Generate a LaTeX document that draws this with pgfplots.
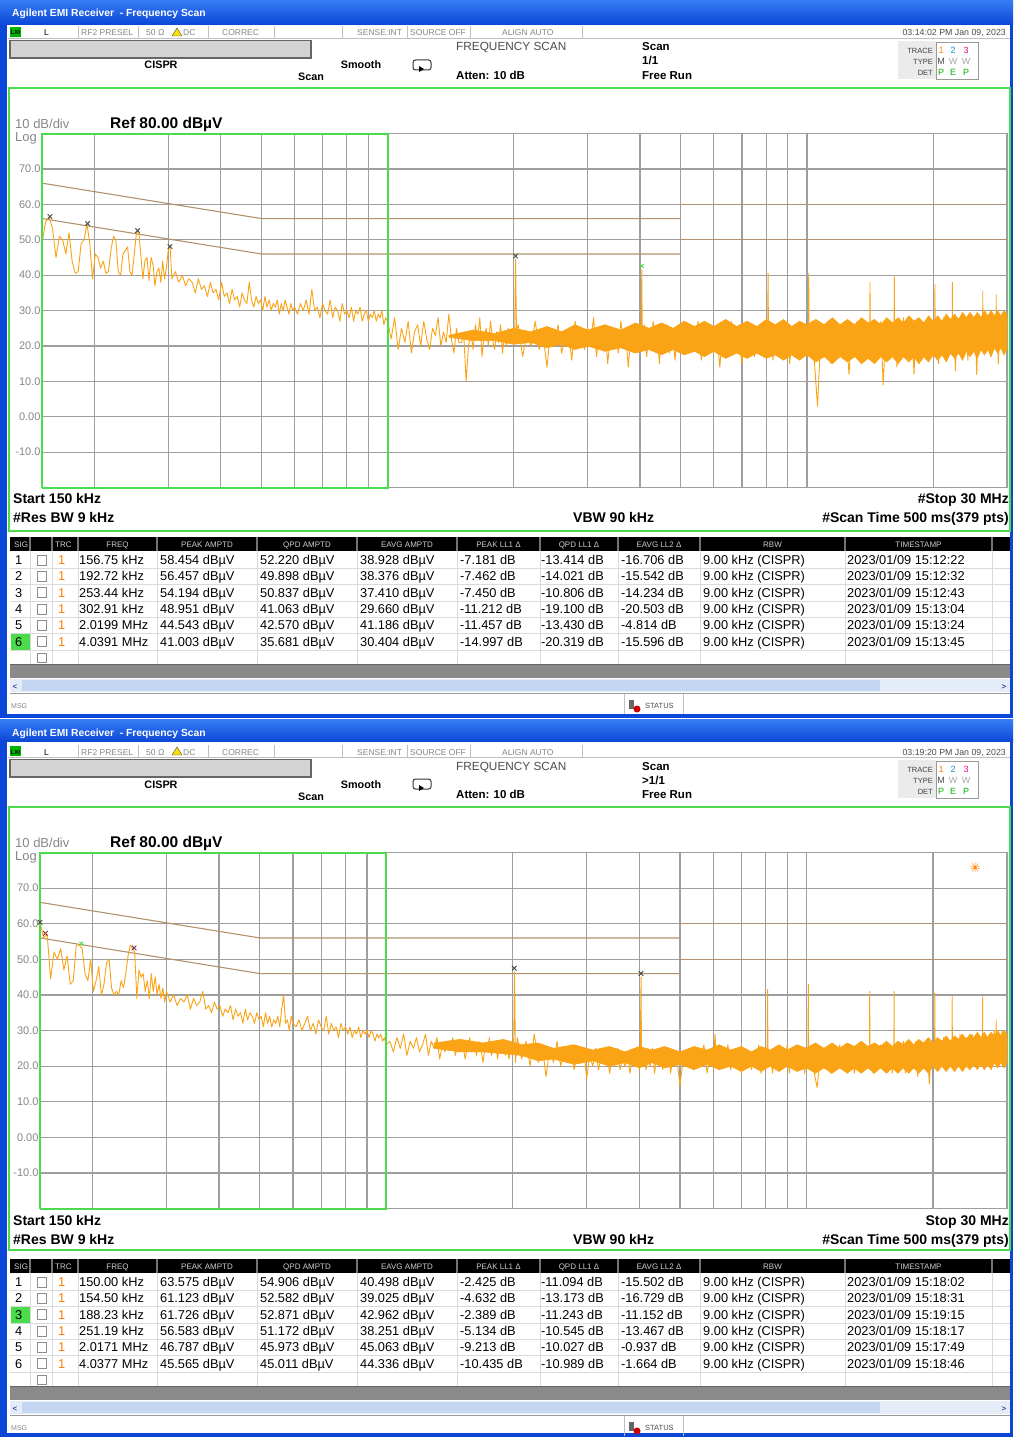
\documentclass[border=0pt]{standalone}
\usepackage{pgfplots}
\pgfplotsset{compat=1.18}
\usepackage{pgfplotstable}
\usepackage{fontspec}
\setmainfont{Liberation Sans}
\usetikzlibrary{plotmarks}

\definecolor{xpblue}{RGB}{10,70,215}
\definecolor{xpblueL}{RGB}{55,125,245}
\definecolor{scrgreen}{RGB}{75,220,75}
\definecolor{tracec}{RGB}{250,163,20}
\definecolor{limitc}{RGB}{178,146,110}
\definecolor{gridc}{RGB}{158,158,158}
\definecolor{labgray}{RGB}{135,135,135}
\definecolor{hdrgray}{RGB}{205,205,205}
\definecolor{rowline}{RGB}{218,218,218}
\definecolor{barg}{RGB}{138,138,138}
\definecolor{scrollbg}{RGB}{228,236,248}
\definecolor{scrollth}{RGB}{196,214,242}
\definecolor{mkred}{RGB}{150,40,60}
\definecolor{mkpurple}{RGB}{100,40,100}

\newcommand\fs[1]{\fontsize{#1}{#1}\selectfont}

\pgfplotstableread[row sep=\\]{
f db\\
0.150 49\\ 0.153 55\\ 0.156 56.5\\ 0.159 53\\ 0.162 45\\ 0.165 51\\ 0.168 50\\ 0.171 46\\ 0.174 52\\ 0.177 44\\
0.180 40.5\\ 0.183 41\\ 0.186 49\\ 0.189 50\\ 0.192 54.5\\ 0.195 49\\ 0.198 39\\ 0.201 46\\ 0.204 45\\ 0.207 42\\
0.210 44\\ 0.213 40.5\\ 0.216 41\\ 0.219 47\\ 0.222 51\\ 0.225 50\\ 0.228 41\\ 0.231 40\\ 0.234 46\\ 0.237 47\\
0.240 48\\ 0.243 41\\ 0.246 40\\ 0.249 46\\ 0.252 52\\ 0.255 52.5\\ 0.258 46\\ 0.261 39\\ 0.264 44\\ 0.267 45\\
0.270 38.5\\ 0.273 45\\ 0.276 43\\ 0.279 37\\ 0.282 41\\ 0.285 42\\ 0.288 38\\ 0.291 44\\ 0.294 39\\ 0.297 42\\
0.300 47\\ 0.303 48.5\\
0.306 39\\ 0.312 41\\ 0.318 38\\ 0.324 40\\ 0.330 37\\ 0.336 39\\ 0.342 38\\ 0.348 35\\ 0.354 39\\ 0.360 36\\
0.366 37\\ 0.372 34\\ 0.378 38\\ 0.384 35\\ 0.390 36\\ 0.396 33\\ 0.402 38\\ 0.408 34\\ 0.414 35\\ 0.420 32\\
0.426 36\\ 0.432 33\\ 0.438 34\\ 0.444 31\\ 0.450 35\\ 0.456 33\\ 0.462 32\\ 0.468 38\\ 0.474 33\\ 0.480 31\\
0.486 34\\ 0.492 32\\ 0.498 33\\ 0.504 30\\ 0.510 34\\ 0.516 31\\ 0.522 33\\ 0.528 30\\ 0.534 32\\ 0.540 31\\
0.546 33\\ 0.552 29\\ 0.558 32\\ 0.564 30\\ 0.570 33\\ 0.576 31\\ 0.582 29\\ 0.588 32\\ 0.594 30\\ 0.600 31\\
0.61 29\\ 0.62 32\\ 0.63 30\\ 0.64 33\\ 0.65 29\\ 0.66 36\\ 0.67 30\\ 0.68 31\\ 0.69 28\\ 0.70 32\\
0.71 30\\ 0.72 29\\ 0.73 33\\ 0.74 28\\ 0.75 31\\ 0.76 30\\ 0.77 27\\ 0.78 32\\ 0.79 29\\ 0.80 30\\
0.81 28\\ 0.82 31\\ 0.83 27\\ 0.84 30\\ 0.85 29\\ 0.86 31\\ 0.87 27\\ 0.88 29\\ 0.89 30\\ 0.90 27\\
0.91 29\\ 0.92 28\\ 0.93 30\\ 0.94 27\\ 0.95 29\\ 0.96 28\\ 0.97 30\\ 0.98 26\\ 0.99 28\\ 1.00 27\\
1.02 22\\ 1.04 28\\ 1.06 19\\ 1.08 25\\ 1.10 21\\ 1.12 27\\ 1.14 18\\ 1.16 24\\ 1.18 26\\ 1.20 20\\
1.22 27\\ 1.24 22\\ 1.26 19\\ 1.28 25\\ 1.30 23\\ 1.32 28\\ 1.34 20\\ 1.36 24\\ 1.38 21\\ 1.40 29\\
1.42 22\\ 1.44 18\\ 1.46 25\\ 1.48 21\\ 1.50 21\\ 1.52 23\\ 1.54 10\\ 1.56 20\\ 1.58 24\\ 1.60 19\\
1.62 26\\ 1.64 22\\ 1.66 28\\ 1.68 17\\ 1.70 23\\ 1.72 25\\ 1.74 20\\ 1.76 27\\ 1.78 22\\ 1.80 19\\
1.82 24\\ 1.84 21\\ 1.86 26\\ 1.88 18\\ 1.90 23\\ 1.92 20\\ 1.94 25\\ 1.96 22\\ 1.98 24\\ 2.00 21\\
2.01 25\\ 2.02 44.5\\ 2.03 24\\
2.05 26\\ 2.10 17\\ 2.15 24\\ 2.20 20\\ 2.25 27\\ 2.30 19\\ 2.35 23\\ 2.40 14\\ 2.45 25\\ 2.50 21\\
2.55 26\\ 2.60 18\\ 2.65 22\\ 2.70 24\\ 2.75 16\\ 2.80 27\\ 2.85 20\\ 2.90 23\\ 2.95 19\\ 3.00 25\\
3.05 21\\ 3.10 28\\ 3.15 17\\ 3.20 24\\ 3.25 22\\ 3.30 26\\ 3.35 15\\ 3.40 23\\ 3.45 20\\ 3.50 25\\
3.55 18\\ 3.60 27\\ 3.65 21\\ 3.70 24\\ 3.75 14\\ 3.80 22\\ 3.85 26\\ 3.90 19\\ 3.95 23\\ 4.00 20\\
4.02 24\\ 4.04 41.5\\ 4.05 21\\
4.10 26\\ 4.15 17\\ 4.20 24\\ 4.25 21\\ 4.30 27\\ 4.35 19\\ 4.40 23\\ 4.45 15\\ 4.50 25\\ 4.55 20\\
4.60 22\\ 4.65 26\\ 4.70 18\\ 4.75 24\\ 4.80 21\\ 4.85 16\\ 4.90 25\\ 4.95 22\\ 5.00 19\\
5.1 25\\ 5.2 18\\ 5.3 23\\ 5.4 20\\ 5.5 27\\ 5.6 16\\ 5.7 24\\ 5.8 21\\ 5.9 26\\ 6.0 19\\
6.1 23\\ 6.2 14\\ 6.3 25\\ 6.4 20\\ 6.5 22\\ 6.6 27\\ 6.7 18\\ 6.8 24\\ 6.9 21\\ 7.0 15\\
7.1 25\\ 7.2 19\\ 7.3 23\\ 7.4 26\\ 7.5 17\\ 7.6 22\\ 7.7 24\\ 7.8 20\\ 7.9 27\\ 8.0 18\\
8.06 23\\ 8.08 40.5\\ 8.10 21\\
8.2 25\\ 8.3 16\\ 8.4 23\\ 8.5 20\\ 8.6 26\\ 8.7 18\\ 8.8 24\\ 8.9 21\\ 9.0 27\\ 9.1 15\\
9.2 22\\ 9.3 25\\ 9.4 19\\ 9.5 23\\ 9.6 20\\ 9.7 26\\ 9.8 17\\ 9.9 24\\ 10.0 21\\
10.08 23\\ 10.1 40.5\\ 10.12 22\\
10.2 25\\ 10.4 17\\ 10.6 3\\ 10.8 24\\ 11.0 20\\ 11.2 27\\ 11.4 15\\ 11.6 23\\ 11.8 21\\ 12.0 26\\
12.2 18\\ 12.4 24\\ 12.6 12\\ 12.8 25\\ 13.0 20\\ 13.2 27\\ 13.4 17\\ 13.6 23\\ 13.8 21\\ 14.0 26\\
14.12 22\\ 14.14 38\\ 14.16 21\\
14.2 24\\ 14.4 16\\ 14.6 25\\ 14.8 19\\ 15.0 27\\ 15.2 9\\ 15.4 23\\ 15.6 20\\ 15.8 26\\ 16.0 18\\
16.14 23\\ 16.16 39.5\\ 16.18 22\\
16.2 25\\ 16.4 14\\ 16.6 24\\ 16.8 21\\ 17.0 28\\ 17.2 17\\ 17.4 23\\ 17.6 19\\ 17.8 26\\ 18.0 12\\
18.2 24\\ 18.4 21\\ 18.6 27\\ 18.8 16\\ 19.0 25\\ 19.2 20\\ 19.4 23\\ 19.6 18\\ 19.8 27\\ 20.0 21\\
20.18 24\\ 20.2 37.5\\ 20.22 22\\
20.4 26\\ 20.6 15\\ 20.8 24\\ 21.0 19\\ 21.2 28\\ 21.4 17\\ 21.6 25\\ 21.8 21\\ 22.0 26\\ 22.2 20\\
22.22 38\\ 22.24 23\\
22.4 27\\ 22.6 13\\ 22.8 25\\ 23.0 20\\ 23.2 28\\ 23.4 18\\ 23.6 24\\ 23.8 22\\ 24.0 27\\ 24.2 16\\
24.4 25\\ 24.6 21\\ 24.8 28\\ 25.0 19\\ 25.2 26\\ 25.4 12\\ 25.6 24\\ 25.8 22\\ 26.0 28\\ 26.2 20\\
26.24 24\\ 26.26 35.5\\ 26.28 23\\
26.4 27\\ 26.6 18\\ 26.8 25\\ 27.0 21\\ 27.2 29\\ 27.4 17\\ 27.6 26\\ 27.8 22\\ 28.0 28\\ 28.2 19\\
28.26 25\\ 28.28 34.5\\ 28.30 24\\
28.4 27\\ 28.6 15\\ 28.8 26\\ 29.0 22\\ 29.2 29\\ 29.4 18\\ 29.6 27\\ 29.8 23\\ 30.0 28\\
}\toptrace

% dense core of the top trace (upper edge, then lower edge back)
\pgfplotstableread[row sep=\\]{
f db\\
1.4 23\\ 1.6 24.5\\ 1.8 23.5\\ 2.0 25\\ 2.2 24\\ 2.4 25.5\\ 2.6 24\\ 2.8 26\\ 3.0 24.5\\ 3.3 26\\
3.6 24.5\\ 3.9 26.5\\ 4.2 25\\ 4.5 26.5\\ 4.8 25\\ 5.1 27\\ 5.4 25.5\\ 5.7 27\\ 6.0 25.5\\ 6.4 27.5\\
6.8 25.5\\ 7.2 27\\ 7.6 25.5\\ 8.0 27.5\\ 8.4 26\\ 8.8 27.5\\ 9.2 25.5\\ 9.6 27\\ 10 26\\ 10.5 27.5\\
11 26\\ 11.5 28\\ 12 26\\ 12.5 27.5\\ 13 26\\ 13.5 28\\ 14 26.5\\ 14.5 27.5\\ 15 26\\ 15.5 28\\
16 26.5\\ 16.5 28\\ 17 26.5\\ 17.5 28.5\\ 18 27\\ 18.5 28\\ 19 26.5\\ 19.5 28.5\\ 20 27\\ 20.5 28.5\\
21 27\\ 21.5 29\\ 22 27.5\\ 22.5 29\\ 23 27.5\\ 23.5 29.5\\ 24 28\\ 24.5 29.5\\ 25 28\\ 25.5 29.5\\
26 28\\ 26.5 30\\ 27 28.5\\ 27.5 30\\ 28 28.5\\ 28.5 30\\ 29 28.5\\ 29.5 30\\ 30 29\\
30 19\\ 29.5 17.5\\ 29 19.5\\ 28.5 18\\ 28 19.5\\ 27.5 17\\ 27 19\\ 26.5 17.5\\ 26 19\\ 25.5 16.5\\
25 18.5\\ 24.5 17\\ 24 18.5\\ 23.5 16\\ 23 18\\ 22.5 16.5\\ 22 18\\ 21.5 15.5\\ 21 17.5\\ 20.5 16\\
20 17.5\\ 19.5 15.5\\ 19 17\\ 18.5 15\\ 18 17\\ 17.5 15.5\\ 17 17\\ 16.5 15\\ 16 17\\ 15.5 15.5\\
15 17\\ 14.5 15\\ 14 16.5\\ 13.5 15\\ 13 17\\ 12.5 15.5\\ 12 17\\ 11.5 15\\ 11 17\\ 10.5 15.5\\
10 17.5\\ 9.6 16\\ 9.2 17.5\\ 8.8 16\\ 8.4 17.5\\ 8.0 16.5\\ 7.6 18\\ 7.2 16.5\\ 6.8 18\\ 6.4 16.5\\
6.0 18.5\\ 5.7 17\\ 5.4 18.5\\ 5.1 17.5\\ 4.8 19\\ 4.5 17.5\\ 4.2 19\\ 3.9 18\\ 3.6 19.5\\ 3.3 18.5\\
3.0 20\\ 2.8 19\\ 2.6 20.5\\ 2.4 19.5\\ 2.2 21\\ 2.0 20.5\\ 1.8 21.5\\ 1.6 21.5\\ 1.4 22.5\\
}\topcore

\pgfplotstableread[row sep=\\]{
f db\\
0.150 60.5\\ 0.153 56\\ 0.156 57\\ 0.159 44.5\\ 0.162 52\\ 0.165 50\\ 0.168 53\\ 0.171 47\\ 0.174 51\\ 0.177 43\\
0.180 44\\ 0.183 54\\ 0.186 54\\ 0.189 53\\ 0.192 46\\ 0.195 44\\ 0.198 50\\ 0.201 41\\ 0.204 44\\ 0.207 48\\
0.210 40\\ 0.213 43\\ 0.216 49\\ 0.219 50\\ 0.222 42\\ 0.225 40\\ 0.228 41\\ 0.231 40\\ 0.234 44\\ 0.237 42\\
0.240 46\\ 0.243 51\\ 0.246 54\\ 0.249 53\\ 0.252 52\\ 0.255 39\\ 0.258 47\\ 0.261 45\\ 0.264 46\\ 0.267 41\\
0.270 44\\ 0.273 39\\ 0.276 46\\ 0.279 41\\ 0.282 45\\ 0.285 40\\ 0.288 43\\ 0.291 39\\ 0.294 42\\ 0.297 38\\
0.300 41\\
0.306 38\\ 0.312 40\\ 0.318 37\\ 0.324 39\\ 0.330 38\\ 0.336 40\\ 0.342 36\\ 0.348 39\\ 0.354 37\\ 0.360 38\\
0.366 41\\ 0.372 36\\ 0.378 37\\ 0.384 35\\ 0.390 38\\ 0.396 36\\ 0.402 37\\ 0.408 34\\ 0.414 36\\ 0.420 35\\
0.426 37\\ 0.432 33\\ 0.438 36\\ 0.444 34\\ 0.450 35\\ 0.456 32\\ 0.462 36\\ 0.468 33\\ 0.474 35\\ 0.480 34\\
0.486 32\\ 0.492 35\\ 0.498 33\\ 0.504 34\\ 0.510 31\\ 0.516 35\\ 0.522 32\\ 0.528 34\\ 0.534 31\\ 0.540 33\\
0.546 32\\ 0.552 34\\ 0.558 31\\ 0.564 36\\ 0.570 40\\ 0.576 32\\ 0.582 33\\ 0.588 30\\ 0.594 34\\ 0.600 32\\
0.61 31\\ 0.62 33\\ 0.63 30\\ 0.64 32\\ 0.65 34\\ 0.66 30\\ 0.67 32\\ 0.68 29\\ 0.69 33\\ 0.70 31\\
0.71 30\\ 0.72 34\\ 0.73 29\\ 0.74 32\\ 0.75 30\\ 0.76 31\\ 0.77 28\\ 0.78 32\\ 0.79 30\\ 0.80 31\\
0.81 29\\ 0.82 31\\ 0.83 28\\ 0.84 30\\ 0.85 29\\ 0.86 31\\ 0.87 28\\ 0.88 30\\ 0.89 29\\ 0.90 30\\
0.91 28\\ 0.92 30\\ 0.93 29\\ 0.94 27\\ 0.95 29\\ 0.96 28\\ 0.97 29\\ 0.98 27\\ 0.99 28\\ 1.00 26\\
1.02 27\\ 1.04 24\\ 1.06 28\\ 1.08 25\\ 1.10 29\\ 1.12 23\\ 1.14 27\\ 1.16 25\\ 1.18 28\\ 1.20 24\\
1.22 26\\ 1.24 29\\ 1.26 23\\ 1.28 27\\ 1.30 25\\ 1.32 28\\ 1.34 22\\ 1.36 26\\ 1.38 24\\ 1.40 27\\
1.42 25\\ 1.44 28\\ 1.46 23\\ 1.48 26\\ 1.50 24\\ 1.52 27\\ 1.54 22\\ 1.56 25\\ 1.58 28\\ 1.60 24\\
1.62 26\\ 1.64 23\\ 1.66 27\\ 1.68 25\\ 1.70 21\\ 1.72 26\\ 1.74 24\\ 1.76 28\\ 1.78 23\\ 1.80 25\\
1.82 27\\ 1.84 22\\ 1.86 26\\ 1.88 24\\ 1.90 27\\ 1.92 23\\ 1.94 25\\ 1.96 22\\ 1.98 26\\ 2.00 24\\
2.01 27\\ 2.02 46.5\\ 2.03 21\\
2.05 28\\ 2.10 22\\ 2.15 27\\ 2.20 20\\ 2.25 29\\ 2.30 21\\ 2.35 26\\ 2.40 17\\ 2.45 25\\ 2.50 21\\
2.55 27\\ 2.60 20\\ 2.65 24\\ 2.70 22\\ 2.75 26\\ 2.80 19\\ 2.85 24\\ 2.90 21\\ 2.95 25\\ 3.00 16.5\\
3.05 23\\ 3.10 20\\ 3.15 25\\ 3.20 19\\ 3.25 23\\ 3.30 21\\ 3.35 24\\ 3.40 18\\ 3.45 23\\ 3.50 20\\
3.55 25\\ 3.60 19\\ 3.65 22\\ 3.70 20\\ 3.75 24\\ 3.80 18\\ 3.85 22\\ 3.90 21\\ 3.95 25\\ 4.00 19\\
4.02 23\\ 4.04 45\\ 4.05 20\\
4.10 24\\ 4.15 19\\ 4.20 22\\ 4.25 20\\ 4.30 25\\ 4.35 18\\ 4.40 23\\ 4.45 20\\ 4.50 24\\ 4.55 19\\
4.60 22\\ 4.65 21\\ 4.70 25\\ 4.75 18\\ 4.80 22\\ 4.85 20\\ 4.90 24\\ 4.95 19\\ 5.00 14.5\\
5.1 23\\ 5.2 20\\ 5.3 25\\ 5.4 19\\ 5.5 22\\ 5.6 21\\ 5.7 26\\ 5.8 18\\ 5.9 23\\ 6.0 20\\
6.06 29\\ 6.1 22\\ 6.2 19\\ 6.3 24\\ 6.4 21\\ 6.5 26\\ 6.6 19\\ 6.7 23\\ 6.8 20\\ 6.9 25\\ 7.0 18\\
7.1 22\\ 7.2 21\\ 7.3 24\\ 7.4 19\\ 7.5 23\\ 7.6 20\\ 7.7 26\\ 7.8 18\\ 7.9 22\\ 8.0 21\\
8.06 23\\ 8.08 41.5\\ 8.10 20\\
8.2 24\\ 8.3 18\\ 8.4 23\\ 8.5 20\\ 8.6 25\\ 8.7 19\\ 8.8 22\\ 8.9 21\\ 9.0 26\\ 9.1 18\\
9.2 23\\ 9.3 20\\ 9.4 25\\ 9.5 19\\ 9.6 22\\ 9.7 21\\ 9.8 24\\ 9.9 18\\ 10.0 23\\
10.08 22\\ 10.1 43\\ 10.12 21\\
10.2 24\\ 10.4 19\\ 10.6 14\\ 10.8 23\\ 11.0 20\\ 11.2 25\\ 11.4 18\\ 11.6 23\\ 11.8 21\\ 12.0 26\\
12.2 19\\ 12.4 24\\ 12.6 20\\ 12.8 25\\ 13.0 18\\ 13.2 23\\ 13.4 21\\ 13.6 26\\ 13.8 19\\ 14.0 24\\
14.12 22\\ 14.14 41\\ 14.16 21\\
14.2 25\\ 14.4 18\\ 14.6 24\\ 14.8 21\\ 15.0 26\\ 15.2 19\\ 15.4 23\\ 15.6 20\\ 15.8 25\\ 16.0 18\\
16.14 23\\ 16.16 41\\ 16.18 22\\
16.2 26\\ 16.4 19\\ 16.6 24\\ 16.8 21\\ 17.0 27\\ 17.2 18\\ 17.4 24\\ 17.6 20\\ 17.8 25\\ 18.0 21\\
18.2 27\\ 18.4 17\\ 18.6 24\\ 18.8 22\\ 19.0 26\\ 19.2 19\\ 19.4 25\\ 19.6 15\\ 19.8 24\\ 20.0 22\\
20.18 26\\ 20.2 40.5\\ 20.22 23\\
20.4 27\\ 20.6 19\\ 20.8 25\\ 21.0 21\\ 21.2 28\\ 21.4 19\\ 21.6 26\\ 21.8 22\\ 22.0 27\\ 22.2 21\\
22.22 39.5\\ 22.24 24\\
22.4 28\\ 22.6 20\\ 22.8 26\\ 23.0 22\\ 23.2 29\\ 23.4 19\\ 23.6 25\\ 23.8 22\\ 24.0 28\\ 24.2 20\\
24.4 26\\ 24.6 23\\ 24.8 29\\ 25.0 20\\ 25.2 27\\ 25.4 22\\ 25.6 28\\ 25.8 21\\ 26.0 27\\ 26.2 22\\
26.24 25\\ 26.26 39.5\\ 26.28 24\\
26.4 28\\ 26.6 20\\ 26.8 27\\ 27.0 23\\ 27.2 29\\ 27.4 21\\ 27.6 28\\ 27.8 24\\ 28.0 30\\ 28.2 22\\
28.26 26\\ 28.28 33\\ 28.30 24\\
28.4 29\\ 28.6 21\\ 28.8 27\\ 29.0 24\\ 29.2 30\\ 29.4 22\\ 29.6 28\\ 29.8 24\\ 30.0 27\\
}\bottrace

% dense core of the bottom trace (upper edge, then lower edge back)
\pgfplotstableread[row sep=\\]{
f db\\
1.3 26.5\\ 1.5 27.5\\ 1.7 26.5\\ 1.9 27.5\\ 2.1 26\\ 2.3 26.5\\ 2.5 25\\ 2.8 26\\ 3.1 24.5\\ 3.4 25.5\\
3.7 24\\ 4.0 25.5\\ 4.3 24.5\\ 4.6 25.5\\ 5.0 24\\ 5.4 25.5\\ 5.8 24.5\\ 6.2 26\\ 6.6 24.5\\ 7.0 25.5\\
7.4 24\\ 7.8 25.5\\ 8.2 24.5\\ 8.6 26\\ 9.0 24.5\\ 9.5 26\\ 10 25\\ 10.5 26.5\\ 11 25\\ 11.5 26.5\\
12 25\\ 12.5 26.5\\ 13 25.5\\ 13.5 27\\ 14 25.5\\ 14.5 26.5\\ 15 25.5\\ 15.5 27\\ 16 25.5\\ 16.5 27\\
17 26\\ 17.5 27.5\\ 18 26\\ 18.5 27.5\\ 19 26.5\\ 19.5 28\\ 20 26.5\\ 20.5 28\\ 21 27\\ 21.5 28.5\\
22 27\\ 22.5 28.5\\ 23 27.5\\ 23.5 29\\ 24 27.5\\ 24.5 29\\ 25 28\\ 25.5 29.5\\ 26 28\\ 26.5 29.5\\
27 28\\ 27.5 29.5\\ 28 28.5\\ 28.5 30\\ 29 28.5\\ 29.5 30\\ 30 29\\
30 21\\ 29.5 19.5\\ 29 21\\ 28.5 19.5\\ 28 21\\ 27.5 19\\ 27 20.5\\ 26.5 19\\ 26 20.5\\ 25.5 19\\
25 20.5\\ 24.5 19\\ 24 20\\ 23.5 18.5\\ 23 20\\ 22.5 18.5\\ 22 20\\ 21.5 18.5\\ 21 20\\ 20.5 18.5\\
20 20\\ 19.5 18\\ 19 19.5\\ 18.5 18\\ 18 19.5\\ 17.5 18\\ 17 19.5\\ 16.5 18\\ 16 19.5\\ 15.5 18\\
15 19.5\\ 14.5 18\\ 14 19.5\\ 13.5 18\\ 13 19.5\\ 12.5 18\\ 12 19.5\\ 11.5 18\\ 11 19.5\\ 10.5 18\\
10 19.5\\ 9.5 18.5\\ 9.0 20\\ 8.6 18.5\\ 8.2 20\\ 7.8 18.5\\ 7.4 20\\ 7.0 18.5\\ 6.6 20\\ 6.2 19\\
5.8 20.5\\ 5.4 19\\ 5.0 20.5\\ 4.6 19.5\\ 4.3 21\\ 4.0 19.5\\ 3.7 21\\ 3.4 20\\ 3.1 21.5\\ 2.8 20.5\\
2.5 22\\ 2.3 21.5\\ 2.1 23\\ 1.9 23.5\\ 1.7 24\\ 1.5 24\\ 1.3 25\\
}\botcore

\tikzset{
 tb/.style={anchor=base west, inner sep=0pt, font=\fs{12.8}},
 th/.style={anchor=base, inner sep=0pt, font=\fs{8}, text=hdrgray},
 st/.style={anchor=base west, inner sep=0pt, font=\fs{8.5}, text=labgray},
 hb/.style={anchor=base west, inner sep=0pt, font=\bfseries\fs{11.5}},
}

\newcommand\chrome[3]{%
  \fill[xpblue] (0,0) rectangle (1013,718);
  \shade[top color=xpblueL, bottom color=xpblue] (0,0) rectangle (1013,#3);
  \fill[white] (7,#3) rectangle (1010,714);
  \node[anchor=base west, inner sep=0pt, text=white, font=\bfseries\fs{10.3}] at (12,17) {Agilent EMI Receiver\ \ - Frequency Scan};
  \draw[gray!50] (8,38) -- (1010,38);
  \foreach \xx in {78,138,208,274,342,407,470,582} {\draw[gray!50] (\xx,26) -- (\xx,38);}
  \fill[green!70!black] (10,27) rectangle (21,37);
  \node[anchor=base west, inner sep=0pt, font=\bfseries\fs{6}] at (10.5,35) {LXI};
  \node[st, text=black] at (44,36) {L};
  \node[st] at (81,36) {RF2 PRESEL};
  \node[st] at (146,36) {50 Ω};
  \fill[yellow!80!orange, draw=black!70, line width=0.4pt] (172,36) -- (182,36) -- (177,28) -- cycle;
  \node[st] at (183,36) {DC};
  \node[st] at (222,36) {CORREC};
  \node[st] at (357,36) {SENSE:INT};
  \node[st] at (410,36) {SOURCE OFF};
  \node[st] at (502,36) {ALIGN AUTO};
  \node[anchor=base east, inner sep=0pt, font=\fs{8.8}, text=black!70] at (1006,36) {#1};
  \filldraw[fill=black!17, draw=black!60, line width=1.2pt] (10,40.5) rectangle (311,58);
  \node[anchor=base, inner sep=0pt, font=\bfseries\fs{10.8}] at (161,69) {CISPR};
  \node[anchor=base, inner sep=0pt, font=\bfseries\fs{10.8}] at (311,81) {Scan};
  \node[anchor=base, inner sep=0pt, font=\bfseries\fs{10.8}] at (361,69) {Smooth};
  \draw[black!80, line width=1pt, rounded corners=2.5pt] (413,60) rectangle (431,70);
  \fill[black] (419,66) -- (424,69) -- (419,72) -- cycle;
  \node[anchor=base west, inner sep=0pt, font=\fs{11.8}, text=black!70] at (456,51) {FREQUENCY SCAN};
  \node[hb] at (456,79) {Atten: 10 dB};
  \node[hb] at (642,51) {Scan};
  \node[hb] at (642,65) {#2};
  \node[hb] at (642,79) {Free Run};
  \fill[black!8] (898,41) rectangle (936,79);
  \draw[black!40] (936,42) rectangle (978,79);
  \node[anchor=base east, inner sep=0pt, font=\fs{7.5}, text=black!75] at (933,53) {TRACE};
  \node[anchor=base east, inner sep=0pt, font=\fs{7.5}, text=black!75] at (933,64) {TYPE};
  \node[anchor=base east, inner sep=0pt, font=\fs{7.5}, text=black!75] at (933,75) {DET};
  \node[anchor=base, inner sep=0pt, font=\fs{9}, text=orange] at (941,53) {1};
  \node[anchor=base, inner sep=0pt, font=\fs{9}, text=cyan!80!blue] at (953,53) {2};
  \node[anchor=base, inner sep=0pt, font=\fs{9}, text=magenta] at (966,53) {3};
  \node[anchor=base, inner sep=0pt, font=\fs{9}, text=black!70] at (941,64) {M};
  \node[anchor=base, inner sep=0pt, font=\fs{9}, text=black!35] at (953,64) {W};
  \node[anchor=base, inner sep=0pt, font=\fs{9}, text=black!35] at (966,64) {W};
  \node[anchor=base, inner sep=0pt, font=\fs{9}, text=green!70!black] at (941,75) {P};
  \node[anchor=base, inner sep=0pt, font=\fs{9}, text=green!70!black] at (953,75) {E};
  \node[anchor=base, inner sep=0pt, font=\fs{9}, text=green!70!black] at (966,75) {P};
  \draw[scrgreen, line width=2pt] (9,88) rectangle (1010,531);
  \node[anchor=base west, inner sep=0pt, font=\fs{13}, text=labgray] at (15,128) {10 dB/div};
  \node[anchor=base west, inner sep=0pt, font=\fs{13}, text=labgray] at (15,141) {Log};
  \node[anchor=base west, inner sep=0pt, font=\bfseries\fs{15.5}] at (110,128) {Ref 80.00 dBµV};
}

\newcommand\footlabels[1]{%
  \node[anchor=base west, inner sep=0pt, font=\bfseries\fs{14}] at (13,503) {Start 150 kHz};
  \node[anchor=base east, inner sep=0pt, font=\bfseries\fs{14}] at (1009,503) {#1};
  \node[anchor=base west, inner sep=0pt, font=\bfseries\fs{14}] at (13,522) {\#Res BW 9 kHz};
  \node[anchor=base west, inner sep=0pt, font=\bfseries\fs{14}] at (573,522) {VBW 90 kHz};
  \node[anchor=base east, inner sep=0pt, font=\bfseries\fs{14}] at (1009,522) {\#Scan Time 500 ms(379 pts)};
}

\newcommand\tablechrome{%
  \fill[black] (10,537) rectangle (1010,551);
  \foreach \xx in {30,52,78,157,257,357,457,540,618,700,845,992} {\draw[black!55, line width=1.5pt] (\xx,537) -- (\xx,551); \draw[rowline] (\xx,551) -- (\xx,664);}
  \foreach \yy in {568.2,584.5,600.8,617.1,633.4,649.7} {\draw[rowline] (10,\yy) -- (1010,\yy);}
  \node[th, anchor=base west] at (14,547.5) {SIG};
  \node[th, anchor=base west] at (55,547.5) {TRC};
  \node[th] at (117.5,547.5) {FREQ};
  \node[th] at (207,547.5) {PEAK AMPTD};
  \node[th] at (307,547.5) {QPD AMPTD};
  \node[th] at (407,547.5) {EAVG AMPTD};
  \node[th] at (498.5,547.5) {PEAK LL1 Δ};
  \node[th] at (579,547.5) {QPD LL1 Δ};
  \node[th] at (659,547.5) {EAVG LL2 Δ};
  \node[th] at (772.5,547.5) {RBW};
  \node[th] at (918.5,547.5) {TIMESTAMP};
  \fill[barg] (10,664) rectangle (1010,678);
  \draw[black!60] (10,664) -- (1010,664);
  \fill[scrollbg] (10,679) rectangle (1010,692);
  \fill[scrollth] (22,680) rectangle (880,691);
  \node[anchor=base, inner sep=0pt, font=\fs{8}, text=blue!50!black] at (15,689) {<};
  \node[anchor=base, inner sep=0pt, font=\fs{8}, text=blue!50!black] at (1004,689) {>};
  \draw[black!40] (10,693) -- (1010,693);
  \node[anchor=base west, inner sep=0pt, font=\fs{7}, text=labgray] at (11,708) {MSG};
  \draw[black!25] (624,694) -- (624,714);
  \draw[black!25] (683,694) -- (683,714);
  \fill[black!60] (629,700) rectangle (634,709);
  \fill[red!80!black] (637,709) circle (3.5);
  \node[anchor=base west, inner sep=0pt, font=\fs{7.5}, text=black!70] at (645,708) {STATUS};
  \draw[black!45, fill=white, line width=0.6pt] (37,652.8) rectangle (46,662.3);
}

\newcommand\trow[9]{%
  \node[tb] at (15,#1) {#2};
  \draw[black!45, fill=white, line width=0.6pt] (37,#1-9.5) rectangle (46,#1+0.5);
  \node[tb, text=orange] at (58,#1) {1};
  \node[tb] at (79,#1) {#3};
  \node[tb] at (160,#1) {#4};
  \node[tb] at (260,#1) {#5};
  \node[tb] at (360,#1) {#6};
  \node[tb] at (460,#1) {#7};
  \node[tb] at (541,#1) {#8};
  \node[tb] at (621,#1) {#9};
  \node[tb] at (703,#1) {9.00 kHz (CISPR)};
}
\newcommand\tts[2]{\node[tb] at (847,#1) {#2};}

\begin{document}
\begin{tikzpicture}[x=1pt,y=-1pt]
% ================= TOP PANEL =================
\chrome{03:14:02 PM Jan 09, 2023}{1/1}{25}
\footlabels{\#Stop 30 MHz}
\fill[scrgreen] (11,633.8) rectangle (30,649.5);
\tablechrome
\trow{564.5}{1}{156.75 kHz}{58.454 dBµV}{52.220 dBµV}{38.928 dBµV}{-7.181 dB}{-13.414 dB}{-16.706 dB}\tts{564.5}{2023/01/09 15:12:22}
\trow{580.8}{2}{192.72 kHz}{56.457 dBµV}{49.898 dBµV}{38.376 dBµV}{-7.462 dB}{-14.021 dB}{-15.542 dB}\tts{580.8}{2023/01/09 15:12:32}
\trow{597.1}{3}{253.44 kHz}{54.194 dBµV}{50.837 dBµV}{37.410 dBµV}{-7.450 dB}{-10.806 dB}{-14.234 dB}\tts{597.1}{2023/01/09 15:12:43}
\trow{613.4}{4}{302.91 kHz}{48.951 dBµV}{41.063 dBµV}{29.660 dBµV}{-11.212 dB}{-19.100 dB}{-20.503 dB}\tts{613.4}{2023/01/09 15:13:04}
\trow{629.7}{5}{2.0199 MHz}{44.543 dBµV}{42.570 dBµV}{41.186 dBµV}{-11.457 dB}{-13.430 dB}{-4.814 dB}\tts{629.7}{2023/01/09 15:13:24}
\trow{646.0}{6}{4.0391 MHz}{41.003 dBµV}{35.681 dBµV}{30.404 dBµV}{-14.997 dB}{-20.319 dB}{-15.596 dB}\tts{646.0}{2023/01/09 15:13:45}

\begin{axis}[at={(42pt,-487.6pt)}, anchor=south west, width=965pt, height=354pt,
  scale only axis, xmode=log, xmin=0.15, xmax=30, ymin=-20, ymax=80,
  axis line style={gridc, line width=1.3pt},
  xtick={0.2,0.3,0.4,0.5,0.6,0.7,0.8,0.9,1,2,3,4,5,6,7,8,9,10,20},
  xticklabels={}, minor x tick num=0,
  ytick={-10,0,10,20,30,40,50,60,70},
  yticklabels={-10.0,0.00,10.0,20.0,30.0,40.0,50.0,60.0,70.0},
  major tick length=0pt, minor tick length=0pt,
  xmajorgrids, ymajorgrids, grid style={gridc, line width=1.2pt},
  yticklabel style={font=\fs{11}, text=labgray, xshift=2pt},
  clip=false]
\addplot[limitc, line width=1.1pt] coordinates {(0.15,66) (0.5,56) (5,56)};
\addplot[limitc, line width=1.1pt] coordinates {(5,60) (30,60)};
\addplot[limitc, line width=1.1pt] coordinates {(0.15,56) (0.5,46) (5,46)};
\addplot[limitc, line width=1.1pt] coordinates {(5,50) (30,50)};
\addplot[fill=tracec, draw=tracec, line width=0.6pt] table[x=f, y=db] {\topcore} -- cycle;
\addplot[tracec, line width=0.9pt, line join=round] table[x=f, y=db] {\toptrace};
\addplot[scrgreen, line width=2pt] coordinates {(0.15,-20) (0.15,80) (1,80) (1,-20) (0.15,-20)};
\addplot[only marks, mark=x, mark size=3.2pt, black!70, line width=0.9pt] coordinates {(0.15675,56.6) (0.19272,54.6) (0.25344,52.6) (0.30291,48.1) (2.0199,45.4)};
\addplot[only marks, mark=x, mark size=2.6pt, scrgreen, line width=0.9pt] coordinates {(4.0391,42.6)};
\end{axis}

% ================= BOTTOM PANEL =================
\begin{scope}[shift={(0,719)}]
\chrome{03:19:20 PM Jan 09, 2023}{>1/1}{23}
\begin{scope}[shift={(0,3)}]
\footlabels{Stop 30 MHz}
\fill[scrgreen] (11,584.9) rectangle (30,600.8);
\tablechrome
\trow{564.5}{1}{150.00 kHz}{63.575 dBµV}{54.906 dBµV}{40.498 dBµV}{-2.425 dB}{-11.094 dB}{-15.502 dB}\tts{564.5}{2023/01/09 15:18:02}
\trow{580.8}{2}{154.50 kHz}{61.123 dBµV}{52.582 dBµV}{39.025 dBµV}{-4.632 dB}{-13.173 dB}{-16.729 dB}\tts{580.8}{2023/01/09 15:18:31}
\trow{597.1}{3}{188.23 kHz}{61.726 dBµV}{52.871 dBµV}{42.962 dBµV}{-2.389 dB}{-11.243 dB}{-11.152 dB}\tts{597.1}{2023/01/09 15:19:15}
\trow{613.4}{4}{251.19 kHz}{56.583 dBµV}{51.172 dBµV}{38.251 dBµV}{-5.134 dB}{-10.545 dB}{-13.467 dB}\tts{613.4}{2023/01/09 15:18:17}
\trow{629.7}{5}{2.0171 MHz}{46.787 dBµV}{45.973 dBµV}{45.063 dBµV}{-9.213 dB}{-10.027 dB}{-0.937 dB}\tts{629.7}{2023/01/09 15:17:49}
\trow{646.0}{6}{4.0377 MHz}{45.565 dBµV}{45.011 dBµV}{44.336 dBµV}{-10.435 dB}{-10.989 dB}{-1.664 dB}\tts{646.0}{2023/01/09 15:18:46}
\end{scope}
\end{scope}

\begin{axis}[at={(40pt,-1208.5pt)}, anchor=south west, width=967pt, height=356pt,
  scale only axis, xmode=log, xmin=0.15, xmax=30, ymin=-20, ymax=80,
  axis line style={gridc, line width=1.3pt},
  xtick={0.2,0.3,0.4,0.5,0.6,0.7,0.8,0.9,1,2,3,4,5,6,7,8,9,10,20},
  xticklabels={}, minor x tick num=0,
  ytick={-10,0,10,20,30,40,50,60,70},
  yticklabels={-10.0,0.00,10.0,20.0,30.0,40.0,50.0,60.0,70.0},
  major tick length=0pt, minor tick length=0pt,
  xmajorgrids, ymajorgrids, grid style={gridc, line width=1.2pt},
  yticklabel style={font=\fs{11}, text=labgray, xshift=2pt},
  clip=false]
\addplot[limitc, line width=1.1pt] coordinates {(0.15,66) (0.5,56) (5,56)};
\addplot[limitc, line width=1.1pt] coordinates {(5,60) (30,60)};
\addplot[limitc, line width=1.1pt] coordinates {(0.15,56) (0.5,46) (5,46)};
\addplot[limitc, line width=1.1pt] coordinates {(5,50) (30,50)};
\addplot[fill=tracec, draw=tracec, line width=0.6pt] table[x=f, y=db] {\botcore} -- cycle;
\addplot[tracec, line width=0.9pt, line join=round] table[x=f, y=db] {\bottrace};
\addplot[scrgreen, line width=2pt] coordinates {(0.15,-20) (0.15,80) (1,80) (1,-20) (0.15,-20)};
\addplot[only marks, mark=x, mark size=3.2pt, black!75, line width=0.9pt] coordinates {(0.150,60.4) (2.0171,47.5) (4.0377,46)};
\addplot[only marks, mark=x, mark size=3.2pt, mkred, line width=0.9pt] coordinates {(0.1545,57.3)};
\addplot[only marks, mark=x, mark size=2.6pt, scrgreen, line width=0.9pt] coordinates {(0.18823,54.4)};
\addplot[only marks, mark=x, mark size=3.2pt, mkpurple, line width=0.9pt] coordinates {(0.25119,53.2)};
\addplot[only marks, mark=10-pointed star, mark size=5pt, orange, fill=orange] coordinates {(25.2,75.8)};
\end{axis}
\end{tikzpicture}
\end{document}
